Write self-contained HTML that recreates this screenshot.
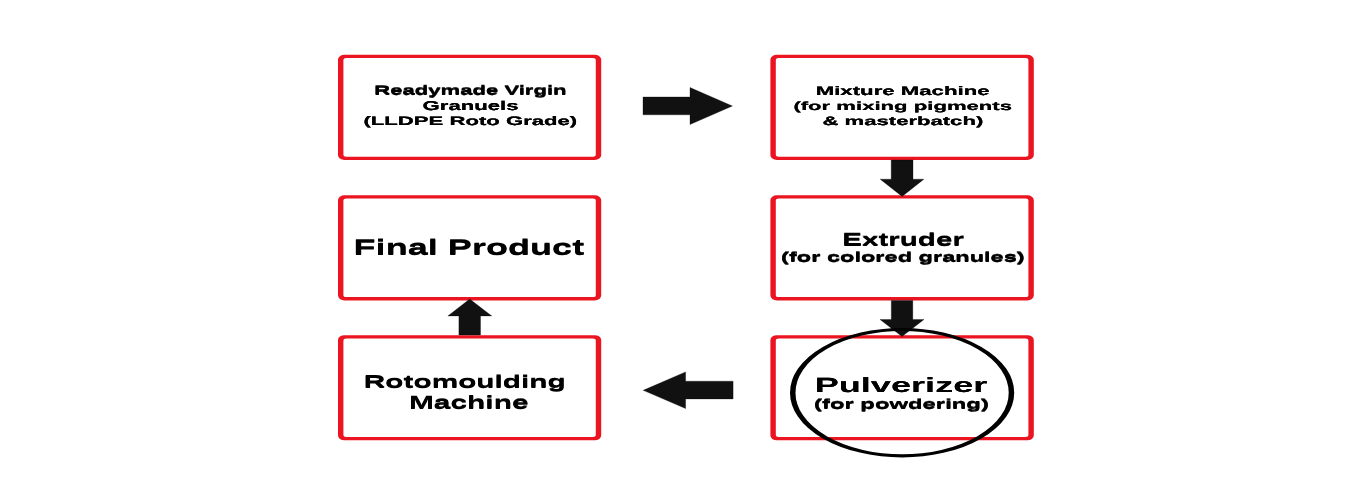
<!DOCTYPE html>
<html><head><meta charset="utf-8"><title>Rotomoulding process</title>
<style>html,body{margin:0;padding:0;background:#fff;}body{width:1366px;height:500px;overflow:hidden;}svg{display:block;}
text{font-family:"Liberation Sans",sans-serif;font-weight:bold;}</style></head>
<body><svg width="1366" height="500" viewBox="0 0 1366 500">
<rect width="1366" height="500" fill="#fff"/>
<path fill="#ea1520" fill-rule="evenodd" d="M344.50,54.80 H594.70 A6.5,4.8 0 0 1 601.20,59.60 V155.20 A6.5,4.8 0 0 1 594.70,160.00 H344.50 A6.5,4.8 0 0 1 338.00,155.20 V59.60 A6.5,4.8 0 0 1 344.50,54.80 Z M346.40,58.10 H592.80 A3,2.2 0 0 1 595.80,60.30 V154.50 A3,2.2 0 0 1 592.80,156.70 H346.40 A3,2.2 0 0 1 343.40,154.50 V60.30 A3,2.2 0 0 1 346.40,58.10 Z"/>
<path fill="#ea1520" fill-rule="evenodd" d="M776.90,54.80 H1027.30 A6.5,4.8 0 0 1 1033.80,59.60 V155.20 A6.5,4.8 0 0 1 1027.30,160.00 H776.90 A6.5,4.8 0 0 1 770.40,155.20 V59.60 A6.5,4.8 0 0 1 776.90,54.80 Z M778.80,58.10 H1025.40 A3,2.2 0 0 1 1028.40,60.30 V154.50 A3,2.2 0 0 1 1025.40,156.70 H778.80 A3,2.2 0 0 1 775.80,154.50 V60.30 A3,2.2 0 0 1 778.80,58.10 Z"/>
<path fill="#ea1520" fill-rule="evenodd" d="M344.50,195.30 H594.70 A6.5,4.8 0 0 1 601.20,200.10 V295.60 A6.5,4.8 0 0 1 594.70,300.40 H344.50 A6.5,4.8 0 0 1 338.00,295.60 V200.10 A6.5,4.8 0 0 1 344.50,195.30 Z M346.40,198.60 H592.80 A3,2.2 0 0 1 595.80,200.80 V294.90 A3,2.2 0 0 1 592.80,297.10 H346.40 A3,2.2 0 0 1 343.40,294.90 V200.80 A3,2.2 0 0 1 346.40,198.60 Z"/>
<path fill="#ea1520" fill-rule="evenodd" d="M776.90,195.30 H1027.30 A6.5,4.8 0 0 1 1033.80,200.10 V295.60 A6.5,4.8 0 0 1 1027.30,300.40 H776.90 A6.5,4.8 0 0 1 770.40,295.60 V200.10 A6.5,4.8 0 0 1 776.90,195.30 Z M778.80,198.60 H1025.40 A3,2.2 0 0 1 1028.40,200.80 V294.90 A3,2.2 0 0 1 1025.40,297.10 H778.80 A3,2.2 0 0 1 775.80,294.90 V200.80 A3,2.2 0 0 1 778.80,198.60 Z"/>
<path fill="#ea1520" fill-rule="evenodd" d="M344.50,335.20 H594.70 A6.5,4.8 0 0 1 601.20,340.00 V435.50 A6.5,4.8 0 0 1 594.70,440.30 H344.50 A6.5,4.8 0 0 1 338.00,435.50 V340.00 A6.5,4.8 0 0 1 344.50,335.20 Z M346.40,338.50 H592.80 A3,2.2 0 0 1 595.80,340.70 V434.80 A3,2.2 0 0 1 592.80,437.00 H346.40 A3,2.2 0 0 1 343.40,434.80 V340.70 A3,2.2 0 0 1 346.40,338.50 Z"/>
<path fill="#ea1520" fill-rule="evenodd" d="M776.90,335.20 H1027.30 A6.5,4.8 0 0 1 1033.80,340.00 V435.50 A6.5,4.8 0 0 1 1027.30,440.30 H776.90 A6.5,4.8 0 0 1 770.40,435.50 V340.00 A6.5,4.8 0 0 1 776.90,335.20 Z M778.80,338.50 H1025.40 A3,2.2 0 0 1 1028.40,340.70 V434.80 A3,2.2 0 0 1 1025.40,437.00 H778.80 A3,2.2 0 0 1 775.80,434.80 V340.70 A3,2.2 0 0 1 778.80,338.50 Z"/>
<g fill="#111111" stroke="#000" stroke-width="0.3"><path d="M643,97 H690 V87.5 L732.4,106 L690,124.5 V114.8 H643 Z"/><path d="M733.1,381.2 H685.6 V371.9 L643.2,390.3 L685.6,408.6 V398.9 H733.1 Z"/><path d="M891.2,160 H913 V179.2 H923.9 L902.1,196.5 L880.2,179.2 H891.2 Z"/><path d="M891.3,300.4 H912.8 V319.5 H924 L902,336.5 L880,319.5 H891.3 Z"/><path d="M458.9,335 V315.9 H447.9 L469.7,299 L491.75,315.9 H480.5 V335 Z"/></g>
<g transform="translate(902.1,392.65) scale(1,0.5636)"><ellipse cx="0" cy="0" rx="109.35" ry="112.14" fill="none" stroke="#000" stroke-width="5.5"/></g>
<g fill="#000" font-family="Liberation Sans, sans-serif" font-weight="bold" text-rendering="geometricPrecision" style="will-change:transform"><text transform="translate(374.31,94.36) scale(1,0.5766)" font-size="22.098" stroke="#000" stroke-width="0.2" vector-effect="non-scaling-stroke">Readymade Virgin</text><text transform="translate(374.31,94.80) scale(1,0.5766)" font-size="22.098" stroke="#000" stroke-width="0.2" vector-effect="non-scaling-stroke">Readymade Virgin</text><text transform="translate(422.62,109.68) scale(1,0.5790)" font-size="22.115" stroke="#000" stroke-width="0.2" vector-effect="non-scaling-stroke">Granuels</text><text transform="translate(422.62,110.12) scale(1,0.5790)" font-size="22.115" stroke="#000" stroke-width="0.2" vector-effect="non-scaling-stroke">Granuels</text><text transform="translate(363.49,124.81) scale(1,0.5557)" font-size="22.117" stroke="#000" stroke-width="0.2" vector-effect="non-scaling-stroke">(LLDPE Roto Grade)</text><text transform="translate(363.49,125.25) scale(1,0.5557)" font-size="22.117" stroke="#000" stroke-width="0.2" vector-effect="non-scaling-stroke">(LLDPE Roto Grade)</text><text transform="translate(815.70,94.56) scale(1,0.5609)" font-size="22.198" stroke="#000" stroke-width="0.2" vector-effect="non-scaling-stroke">Mixture Machine</text><text transform="translate(815.70,95.00) scale(1,0.5609)" font-size="22.198" stroke="#000" stroke-width="0.2" vector-effect="non-scaling-stroke">Mixture Machine</text><text transform="translate(793.39,109.60) scale(1,0.5360)" font-size="22.128" stroke="#000" stroke-width="0.2" vector-effect="non-scaling-stroke">(for mixing pigments</text><text transform="translate(793.39,110.04) scale(1,0.5360)" font-size="22.128" stroke="#000" stroke-width="0.2" vector-effect="non-scaling-stroke">(for mixing pigments</text><text transform="translate(822.51,124.94) scale(1,0.5517)" font-size="22.088" stroke="#000" stroke-width="0.2" vector-effect="non-scaling-stroke">&amp; masterbatch)</text><text transform="translate(822.51,125.38) scale(1,0.5517)" font-size="22.088" stroke="#000" stroke-width="0.2" vector-effect="non-scaling-stroke">&amp; masterbatch)</text><text transform="translate(353.56,254.46) scale(1,0.5907)" font-size="36.101">Final Product</text><text transform="translate(353.56,254.90) scale(1,0.5907)" font-size="36.101">Final Product</text><text transform="translate(842.20,245.46) scale(1,0.5975)" font-size="29.603">Extruder</text><text transform="translate(842.20,245.90) scale(1,0.5975)" font-size="29.603">Extruder</text><text transform="translate(781.12,261.41) scale(1,0.5622)" font-size="23.576" stroke="#000" stroke-width="0.2" vector-effect="non-scaling-stroke">(for colored granules)</text><text transform="translate(781.12,261.85) scale(1,0.5622)" font-size="23.576" stroke="#000" stroke-width="0.2" vector-effect="non-scaling-stroke">(for colored granules)</text><text transform="translate(814.66,391.96) scale(1,0.5698)" font-size="36.149">Pulverizer</text><text transform="translate(814.66,392.40) scale(1,0.5698)" font-size="36.149">Pulverizer</text><text transform="translate(814.01,408.41) scale(1,0.5557)" font-size="23.851" stroke="#000" stroke-width="0.2" vector-effect="non-scaling-stroke">(for powdering)</text><text transform="translate(814.01,408.85) scale(1,0.5557)" font-size="23.851" stroke="#000" stroke-width="0.2" vector-effect="non-scaling-stroke">(for powdering)</text><text transform="translate(363.79,387.46) scale(1,0.5836)" font-size="29.808">Rotomoulding</text><text transform="translate(363.79,387.90) scale(1,0.5836)" font-size="29.808">Rotomoulding</text><text transform="translate(408.88,408.26) scale(1,0.5984)" font-size="29.923">Machine</text><text transform="translate(408.88,408.70) scale(1,0.5984)" font-size="29.923">Machine</text></g>
</svg></body></html>
